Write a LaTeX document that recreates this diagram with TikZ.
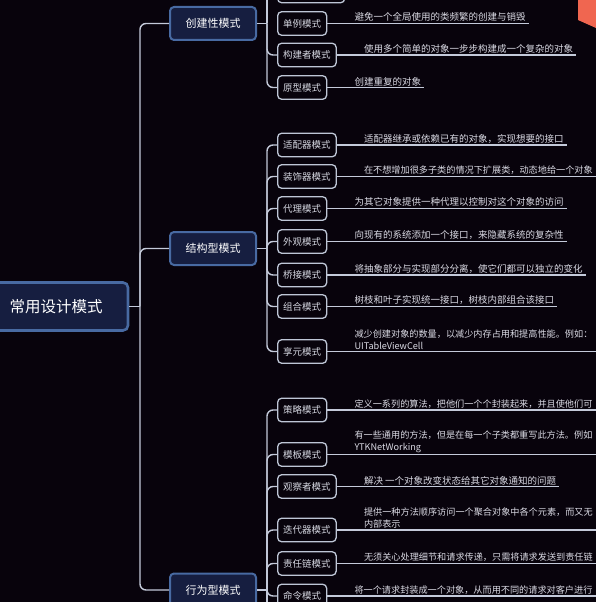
\documentclass[tikz,border=0pt]{standalone}
\usepackage{fontspec}
\setmainfont{Noto Sans CJK SC}
\usetikzlibrary{calc}
\definecolor{bg}{RGB}{8,3,12}
\definecolor{accent}{RGB}{240,102,80}
\definecolor{conncol}{RGB}{196,202,218}
\definecolor{leafline}{RGB}{190,198,214}
\definecolor{leaftext}{RGB}{214,216,226}
\definecolor{desctext}{RGB}{218,218,228}
\definecolor{catfill}{RGB}{22,30,64}
\definecolor{catline}{RGB}{72,106,162}
\tikzset{
  conn/.style={draw=conncol, line width=1.4pt},
  branch/.style={conn, rounded corners=6pt},
  rootbox/.style={draw=catline, line width=2.6pt, fill=catfill, rounded corners=5pt,
    text=white, font=\fontsize{15.5}{18}\selectfont, minimum width=144pt, minimum height=48pt},
  catbox/.style={draw=catline, line width=2pt, fill=catfill, rounded corners=4pt,
    text=white, font=\fontsize{11}{13}\selectfont, minimum width=86pt, minimum height=33pt},
  leaf/.style={draw=leafline, line width=1.3pt, fill=bg, rounded corners=4pt,
    inner xsep=5.5pt, minimum height=23.5pt, anchor=west, text=leaftext,
    font=\fontsize{9.5}{11}\selectfont},
  desc/.style={anchor=south west, align=left, inner sep=1pt, text=desctext,
    font=\fontsize{9.5}{12}\selectfont},
  desctight/.style={desc, font=\fontsize{9.15}{12}\selectfont}
}
% leaf whose line ends just after its text
\newcommand\leafitem[4]{%
  \node[leaf] (#1) at (277,#2) {#3};
  \node[desc] (#1d) at ([xshift=26pt,yshift=0.5pt]#1.east) {#4};
  \draw[conn] (#1.east) -- ([xshift=2pt]#1d.south east |- #1.east);
}
% leaf whose text and line run to the right edge
\newcommand\leafedge[4]{%
  \node[leaf] (#1) at (277,#2) {#3};
  \node[desctight] (#1d) at ([xshift=26pt,yshift=0.5pt]#1.east) {#4};
  \coordinate (#1end) at (600,#2);
  \draw[conn] (#1.east) -- (#1end);
}
\begin{document}
\begin{tikzpicture}[x=1pt,y=-1pt]
\useasboundingbox (0,0) rectangle (596,602);
\clip (0,0) rectangle (596,602);
\fill[bg] (0,0) rectangle (596,602);
\fill[accent] (578,0) -- (596,0) -- (596,28) -- (578,20) -- cycle;

% root and categories
\node[rootbox] (root) at (56,306.5) {常用设计模式};
\node[catbox] (c1) at (213,23.5) {创建性模式};
\node[catbox] (c2) at (213,248.5) {结构型模式};
\node[catbox] (c3) at (213,590) {行为型模式};
\coordinate (tj) at (140,306.5);
\draw[conn] (root.east) -- (tj);
\draw[branch] (tj) |- (c1.west);
\draw[branch] (tj) |- (c2.west);
\draw[branch] (tj) |- (c3.west);

\coordinate (j1) at (267,23.5);
\coordinate (j2) at (267,248.5);
\coordinate (j3) at (267,590);
\draw[conn] (c1.east) -- (j1);
\draw[conn] (c2.east) -- (j2);
\draw[conn] (c3.east) -- (j3);

% creational
\node[leaf, minimum width=67pt] (a0) at (277,-9) {};
\leafitem{a1}{23.5}{单例模式}{避免一个全局使用的类频繁的创建与销毁}
\leafitem{a2}{55}{构建者模式}{使用多个简单的对象一步步构建成一个复杂的对象}
\leafitem{a3}{87.5}{原型模式}{创建重复的对象}
\coordinate (a0up) at (267,-30);
\draw[conn] (j1) -- (a0up);
\foreach \n in {a0,a2,a3} \draw[branch] (j1) |- (\n.west);

% structural
\leafitem{s1}{145}{适配器模式}{适配器继承或依赖已有的对象，实现想要的接口}
\leafedge{s2}{176.5}{装饰器模式}{在不想增加很多子类的情况下扩展类，动态地给一个对象}
\leafitem{s3}{208.5}{代理模式}{为其它对象提供一种代理以控制对这个对象的访问}
\leafitem{s4}{241.5}{外观模式}{向现有的系统添加一个接口，来隐藏系统的复杂性}
\leafitem{s5}{275}{桥接模式}{将抽象部分与实现部分分离，使它们都可以独立的变化}
\leafitem{s6}{306.5}{组合模式}{树枝和叶子实现统一接口，树枝内部组合该接口}
\leafedge{s7}{351.5}{享元模式}{减少创建对象的数量，以减少内存占用和提高性能。例如：\\UITableViewCell}
\foreach \n in {s1,s2,s3,s4,s5,s6,s7} \draw[branch] (j2) |- (\n.west);

% behavioral
\leafedge{b1}{410}{策略模式}{定义一系列的算法，把他们一个个封装起来，并且使他们可}
\leafedge{b2}{454.5}{模板模式}{有一些通用的方法，但是在每一个子类都重写此方法。例如\\YTKNetWorking}
\leafitem{b3}{486.5}{观察者模式}{解决 一个对象改变状态给其它对象通知的问题}
\leafedge{b4}{530}{迭代器模式}{提供一种方法顺序访问一个聚合对象中各个元素，而又无\\内部表示}
\leafedge{b5}{563.5}{责任链模式}{无须关心处理细节和请求传递，只需将请求发送到责任链}
\leafedge{b6}{596}{命令模式}{将一个请求封装成一个对象，从而用不同的请求对客户进行}
\coordinate (b6down) at (267,620);
\draw[conn] (j3) -- (b6down);
\foreach \n in {b1,b2,b3,b4,b5,b6} \draw[branch] (j3) |- (\n.west);
\end{tikzpicture}
\end{document}
